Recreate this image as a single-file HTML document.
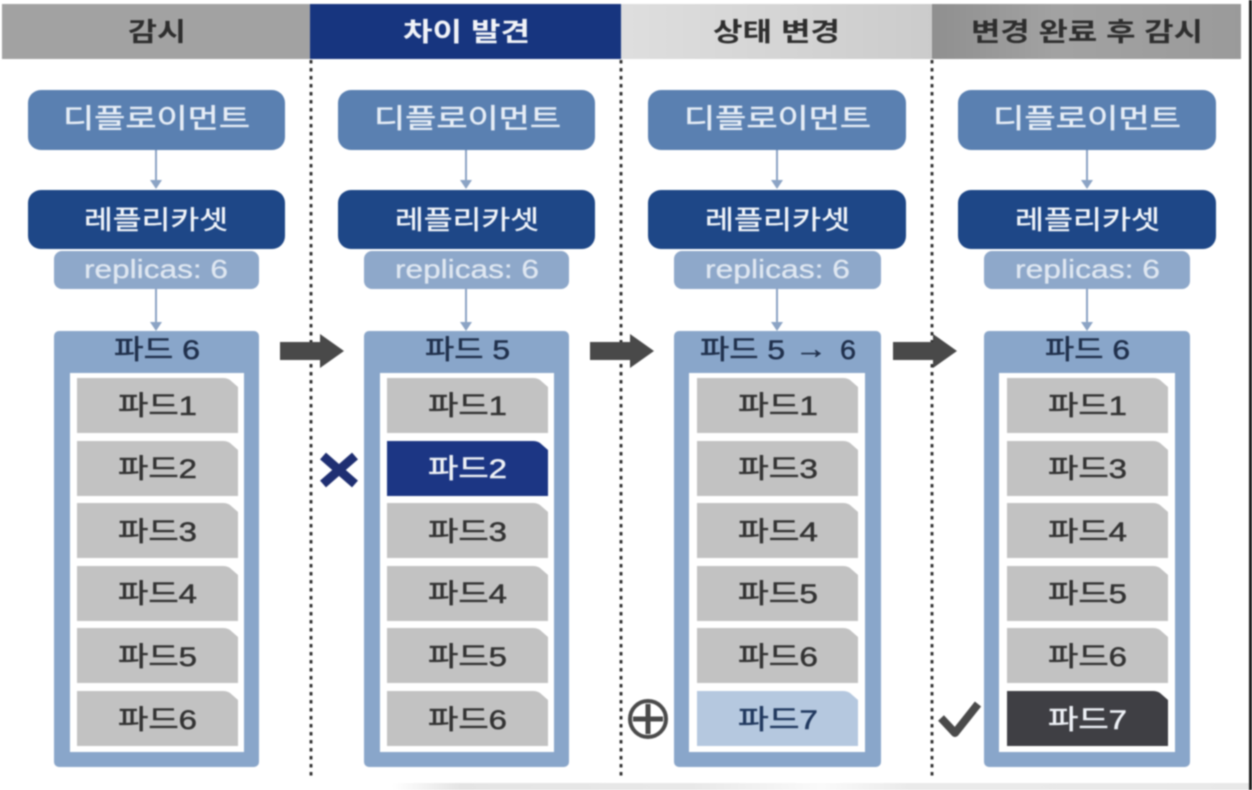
<!DOCTYPE html>
<html lang="ko"><head><meta charset="utf-8"><title>Diagram</title>
<style>
html,body{margin:0;padding:0;background:#fff;width:1252px;height:790px;overflow:hidden}
svg{display:block;position:absolute;left:0;top:0;filter:blur(.8px)}
text{font-family:"Liberation Sans","Noto Sans CJK KR",sans-serif;text-anchor:start}
.h{font-size:26px;font-weight:700;fill:#2e2e2e}
.hw{font-size:26px;font-weight:700;fill:#f1f3f8}
.d{font-size:27px;fill:#e6edf6;stroke:#e6edf6;stroke-width:.5px}
.r{font-size:26px;fill:#f0f4f9;stroke:#f0f4f9;stroke-width:.4px}
.rp{font-size:26px;fill:#dfe7f1;stroke:#dfe7f1;stroke-width:.3px}
.p{font-size:27px;fill:#20304c;stroke:#20304c;stroke-width:.5px}
.i{font-size:27px;fill:#333;stroke:#333;stroke-width:.5px}
.iw{font-size:27px;fill:#eef1f6;stroke:#eef1f6;stroke-width:.5px}
.in{font-size:27px;fill:#21395f;stroke:#21395f;stroke-width:.5px}
</style></head><body>
<svg width="1252" height="790" viewBox="0 0 1252 790" xmlns="http://www.w3.org/2000/svg">
<defs>
<linearGradient id="g3" x1="0" x2="1" y1="0" y2="0"><stop offset="0" stop-color="#dedede"/><stop offset="1" stop-color="#cbcbcb"/></linearGradient>
<linearGradient id="g4" x1="0" x2="1" y1="0" y2="0"><stop offset="0" stop-color="#8f8f8f"/><stop offset=".4" stop-color="#a2a2a2"/><stop offset="1" stop-color="#9a9a9a"/></linearGradient>
<linearGradient id="gb" x1="0" x2="1" y1="0" y2="0"><stop offset="0" stop-color="#fff"/><stop offset=".08" stop-color="#e4e4e4"/><stop offset=".35" stop-color="#e8e8e8"/><stop offset=".5" stop-color="#fafafa"/><stop offset=".6" stop-color="#eaeaea"/><stop offset="1" stop-color="#e8e8e8"/></linearGradient>
<path id="pod" d="M0 0H146Q150 0 153 2L161 9V55H0Z"/>
<path id="arr" d="M0 -9H40V-17L64 0L40 17V9H0Z" fill="#494949"/>
<path id="ah" d="M-6 0H6L0 9Z" fill="#8ba3c4"/>
</defs>

<!-- bottom band and right edge -->
<rect x="392" y="783" width="860" height="7" fill="url(#gb)"/>
<rect x="1249" y="0" width="3" height="790" fill="#1a1a1a"/>

<!-- headers -->
<rect x="2" y="4" width="308" height="55" fill="#a2a2a2"/>
<rect x="310" y="4" width="311" height="55" fill="#17357f"/>
<rect x="621" y="4" width="311" height="55" fill="url(#g3)"/>
<rect x="932" y="4" width="309" height="55" fill="url(#g4)"/>
<text class="h" x="128" y="41" textLength="58" lengthAdjust="spacingAndGlyphs">감시</text>
<text class="hw" x="403" y="41" textLength="127" lengthAdjust="spacingAndGlyphs">차이 발견</text>
<text class="h" x="713" y="41" textLength="127" lengthAdjust="spacingAndGlyphs">상태 변경</text>
<text class="h" x="971" y="41" textLength="232" lengthAdjust="spacingAndGlyphs">변경 완료 후 감시</text>

<!-- dotted dividers -->
<g stroke="#2c2c2c" stroke-width="2.8" stroke-dasharray="3.5 4.5" fill="none">
<path d="M311 60V780"/><path d="M621 60V780"/><path d="M932 60V780"/>
</g>

<!-- column 1 -->
<rect x="28" y="90" width="257" height="60" rx="13" fill="#5a80b1"/>
<rect x="28" y="190" width="257" height="59" rx="13" fill="#1e4787"/>
<rect x="54" y="251" width="205" height="38" rx="8" fill="#8ea8ca"/>
<rect x="54" y="331" width="205" height="436" rx="5" fill="#89a6ca"/>
<rect x="70" y="373" width="174" height="379" fill="#fff"/>
<path d="M156 150V180M156 289V322" stroke="#8ba3c4" stroke-width="2"/>
<use href="#ah" x="156" y="180"/><use href="#ah" x="156" y="322"/>
<text class="d" x="63" y="128" textLength="187" lengthAdjust="spacingAndGlyphs">디플로이먼트</text>
<text class="r" x="84" y="229" textLength="144" lengthAdjust="spacingAndGlyphs">레플리카셋</text>
<text class="rp" x="84" y="278" textLength="144" lengthAdjust="spacingAndGlyphs">replicas: 6</text>
<text class="p" x="114" y="359" textLength="86" lengthAdjust="spacingAndGlyphs">파드 6</text>
<g fill="#c2c2c2">
<use href="#pod" x="77" y="378"/><use href="#pod" x="77" y="441"/><use href="#pod" x="77" y="503"/><use href="#pod" x="77" y="566"/><use href="#pod" x="77" y="628"/><use href="#pod" x="77" y="691"/>
</g>
<g>
<text class="i" x="118" y="415" textLength="79" lengthAdjust="spacingAndGlyphs">파드1</text>
<text class="i" x="118" y="478" textLength="79" lengthAdjust="spacingAndGlyphs">파드2</text>
<text class="i" x="118" y="541" textLength="79" lengthAdjust="spacingAndGlyphs">파드3</text>
<text class="i" x="118" y="603" textLength="79" lengthAdjust="spacingAndGlyphs">파드4</text>
<text class="i" x="118" y="666" textLength="79" lengthAdjust="spacingAndGlyphs">파드5</text>
<text class="i" x="118" y="729" textLength="79" lengthAdjust="spacingAndGlyphs">파드6</text>
</g>

<!-- column 2 -->
<rect x="338" y="90" width="257" height="60" rx="13" fill="#5a80b1"/>
<rect x="338" y="190" width="257" height="59" rx="13" fill="#1e4787"/>
<rect x="364" y="251" width="205" height="38" rx="8" fill="#8ea8ca"/>
<rect x="364" y="331" width="205" height="436" rx="5" fill="#89a6ca"/>
<rect x="380" y="373" width="174" height="379" fill="#fff"/>
<path d="M466 150V180M466 289V322" stroke="#8ba3c4" stroke-width="2"/>
<use href="#ah" x="466" y="180"/><use href="#ah" x="466" y="322"/>
<text class="d" x="374" y="128" textLength="187" lengthAdjust="spacingAndGlyphs">디플로이먼트</text>
<text class="r" x="395" y="229" textLength="144" lengthAdjust="spacingAndGlyphs">레플리카셋</text>
<text class="rp" x="395" y="278" textLength="144" lengthAdjust="spacingAndGlyphs">replicas: 6</text>
<text class="p" x="425" y="359" textLength="85" lengthAdjust="spacingAndGlyphs">파드 5</text>
<g fill="#c2c2c2">
<use href="#pod" x="387" y="378"/><use href="#pod" x="387" y="441" fill="#1c3684"/><use href="#pod" x="387" y="503"/><use href="#pod" x="387" y="566"/><use href="#pod" x="387" y="628"/><use href="#pod" x="387" y="691"/>
</g>
<text class="i" x="428" y="415" textLength="79" lengthAdjust="spacingAndGlyphs">파드1</text>
<text class="iw" x="428" y="478" textLength="79" lengthAdjust="spacingAndGlyphs">파드2</text>
<text class="i" x="428" y="541" textLength="79" lengthAdjust="spacingAndGlyphs">파드3</text>
<text class="i" x="428" y="603" textLength="79" lengthAdjust="spacingAndGlyphs">파드4</text>
<text class="i" x="428" y="666" textLength="79" lengthAdjust="spacingAndGlyphs">파드5</text>
<text class="i" x="428" y="729" textLength="79" lengthAdjust="spacingAndGlyphs">파드6</text>

<!-- column 3 -->
<rect x="648" y="90" width="258" height="60" rx="13" fill="#5a80b1"/>
<rect x="648" y="190" width="258" height="59" rx="13" fill="#1e4787"/>
<rect x="674" y="251" width="207" height="38" rx="8" fill="#8ea8ca"/>
<rect x="674" y="331" width="207" height="436" rx="5" fill="#89a6ca"/>
<rect x="689" y="373" width="176" height="379" fill="#fff"/>
<path d="M777 150V180M777 289V322" stroke="#8ba3c4" stroke-width="2"/>
<use href="#ah" x="777" y="180"/><use href="#ah" x="777" y="322"/>
<text class="d" x="684" y="128" textLength="187" lengthAdjust="spacingAndGlyphs">디플로이먼트</text>
<text class="r" x="705" y="229" textLength="145" lengthAdjust="spacingAndGlyphs">레플리카셋</text>
<text class="rp" x="705" y="278" textLength="145" lengthAdjust="spacingAndGlyphs">replicas: 6</text>
<text class="p" x="700" y="359" textLength="85" lengthAdjust="spacingAndGlyphs">파드 5</text>
<text class="p" x="795" y="358" textLength="32" lengthAdjust="spacingAndGlyphs">→</text>
<text class="p" x="840" y="359" textLength="16" lengthAdjust="spacingAndGlyphs">6</text>
<g fill="#c2c2c2">
<use href="#pod" x="697" y="378"/><use href="#pod" x="697" y="441"/><use href="#pod" x="697" y="503"/><use href="#pod" x="697" y="566"/><use href="#pod" x="697" y="628"/><use href="#pod" x="697" y="691" fill="#b5c8df"/>
</g>
<text class="i" x="738" y="415" textLength="80" lengthAdjust="spacingAndGlyphs">파드1</text>
<text class="i" x="738" y="478" textLength="80" lengthAdjust="spacingAndGlyphs">파드3</text>
<text class="i" x="738" y="541" textLength="80" lengthAdjust="spacingAndGlyphs">파드4</text>
<text class="i" x="738" y="603" textLength="80" lengthAdjust="spacingAndGlyphs">파드5</text>
<text class="i" x="738" y="666" textLength="80" lengthAdjust="spacingAndGlyphs">파드6</text>
<text class="in" x="738" y="729" textLength="80" lengthAdjust="spacingAndGlyphs">파드7</text>

<!-- column 4 -->
<rect x="958" y="90" width="258" height="60" rx="13" fill="#5a80b1"/>
<rect x="958" y="190" width="258" height="59" rx="13" fill="#1e4787"/>
<rect x="984" y="251" width="206" height="38" rx="8" fill="#8ea8ca"/>
<rect x="984" y="331" width="206" height="436" rx="5" fill="#89a6ca"/>
<rect x="999" y="373" width="176" height="379" fill="#fff"/>
<path d="M1087 150V180M1087 289V322" stroke="#8ba3c4" stroke-width="2"/>
<use href="#ah" x="1087" y="180"/><use href="#ah" x="1087" y="322"/>
<text class="d" x="993" y="128" textLength="188" lengthAdjust="spacingAndGlyphs">디플로이먼트</text>
<text class="r" x="1015" y="229" textLength="145" lengthAdjust="spacingAndGlyphs">레플리카셋</text>
<text class="rp" x="1015" y="278" textLength="145" lengthAdjust="spacingAndGlyphs">replicas: 6</text>
<text class="p" x="1045" y="359" textLength="85" lengthAdjust="spacingAndGlyphs">파드 6</text>
<g fill="#c2c2c2">
<use href="#pod" x="1007" y="378"/><use href="#pod" x="1007" y="441"/><use href="#pod" x="1007" y="503"/><use href="#pod" x="1007" y="566"/><use href="#pod" x="1007" y="628"/><use href="#pod" x="1007" y="691" fill="#3f3f44"/>
</g>
<text class="i" x="1048" y="415" textLength="79" lengthAdjust="spacingAndGlyphs">파드1</text>
<text class="i" x="1048" y="478" textLength="79" lengthAdjust="spacingAndGlyphs">파드3</text>
<text class="i" x="1048" y="541" textLength="79" lengthAdjust="spacingAndGlyphs">파드4</text>
<text class="i" x="1048" y="603" textLength="79" lengthAdjust="spacingAndGlyphs">파드5</text>
<text class="i" x="1048" y="666" textLength="79" lengthAdjust="spacingAndGlyphs">파드6</text>
<text class="iw" x="1048" y="729" textLength="79" lengthAdjust="spacingAndGlyphs">파드7</text>

<!-- big arrows -->
<use href="#arr" x="280" y="351"/>
<use href="#arr" x="590" y="351"/>
<use href="#arr" x="893" y="351"/>

<!-- marks -->
<path d="M323 456L355 484M355 456L323 484" stroke="#1f2f72" stroke-width="9" fill="none"/>
<g fill="none" stroke="#4a4a4a">
<circle cx="648" cy="719" r="18" stroke-width="4"/>
<path d="M633 719H663M648 704V734" stroke-width="5"/>
</g>
<path d="M941 718L955 733L978 704" fill="none" stroke="#4a4a4a" stroke-width="8" stroke-linejoin="round"/>
</svg>
</body></html>
